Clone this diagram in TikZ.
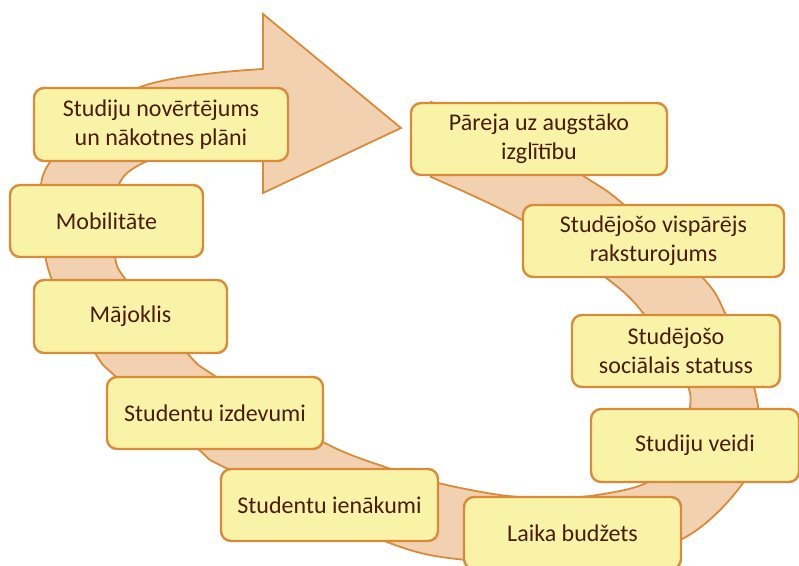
\documentclass[tikz,border=0pt]{standalone}
\usepackage{fontspec}
\setmainfont{Carlito}
\definecolor{boxfill}{HTML}{F9F3A8}
\definecolor{boxline}{HTML}{D98B3A}
\definecolor{bandfill}{HTML}{F2D1B1}
\definecolor{txt}{HTML}{4A1C0C}
\tikzset{
  stage/.style={draw=boxline, fill=boxfill, line width=2.4pt, rounded corners=10pt,
    inner sep=0pt, align=center, text=txt, font=\fontsize{24}{29}\selectfont},
  band/.style={draw=boxline, fill=bandfill, line width=1.8pt, line join=miter}
}
\begin{document}
\begin{tikzpicture}[x=1pt,y=-1pt]
\useasboundingbox (0,0) rectangle (799,565);
% circular arrow band
\path[band]
  plot[smooth, tension=0.55] coordinates {
    (431,102) (520,136) (585,177) (622,203) (702,277) (725,313) (752,380)
    (759,430) (743,483) (680,540) (570,565) (465,560) (387,542) (228,469)
    (198,449) (115,376) (95,353) (52,280) (42,220) (50,162) (138,88) (263,69)}
  -- (263,14) -- (401,128) -- (263,193) -- (263,139)
  -- plot[smooth, tension=0.55] coordinates {
    (263,139) (180,150) (125,175) (112,220) (115,257) (126,280) (187,353)
    (215,376) (323,442) (388,468) (438,483) (500,495) (550,498) (597,495)
    (648,482) (680,448) (690,408) (685,380) (643,313) (605,277) (522,220)
    (431,177)}
  -- cycle;
% stages
\node[stage, minimum width=254pt, minimum height=73pt] (n1) at (161,124.5) {Studiju novērtējums\\un nākotnes plāni};
\node[stage, minimum width=256pt, minimum height=72pt] (n2) at (539,139) {Pāreja uz augstāko\\izglītību};
\node[stage, minimum width=261pt, minimum height=72pt] (n3) at (653.5,241) {Studējošo vispārējs\\raksturojums};
\node[stage, minimum width=208pt, minimum height=72pt] (n4) at (676,351) {Studējošo\\sociālais statuss};
\node[stage, minimum width=208pt, minimum height=73pt] (n5) at (695,445.5) {Studiju veidi};
\node[stage, minimum width=217pt, minimum height=72pt] (n6) at (572.5,533) {Laika budžets};
\node[stage, minimum width=217pt, minimum height=72pt] (n7) at (329.5,505) {Studentu ienākumi};
\node[stage, minimum width=216pt, minimum height=72pt] (n8) at (215,413) {Studentu izdevumi};
\node[stage, minimum width=193pt, minimum height=73pt] (n9) at (130.5,316.5) {Mājoklis};
\node[stage, minimum width=193pt, minimum height=72pt] (n10) at (106.5,221) {Mobilitāte};
\end{tikzpicture}
\end{document}
